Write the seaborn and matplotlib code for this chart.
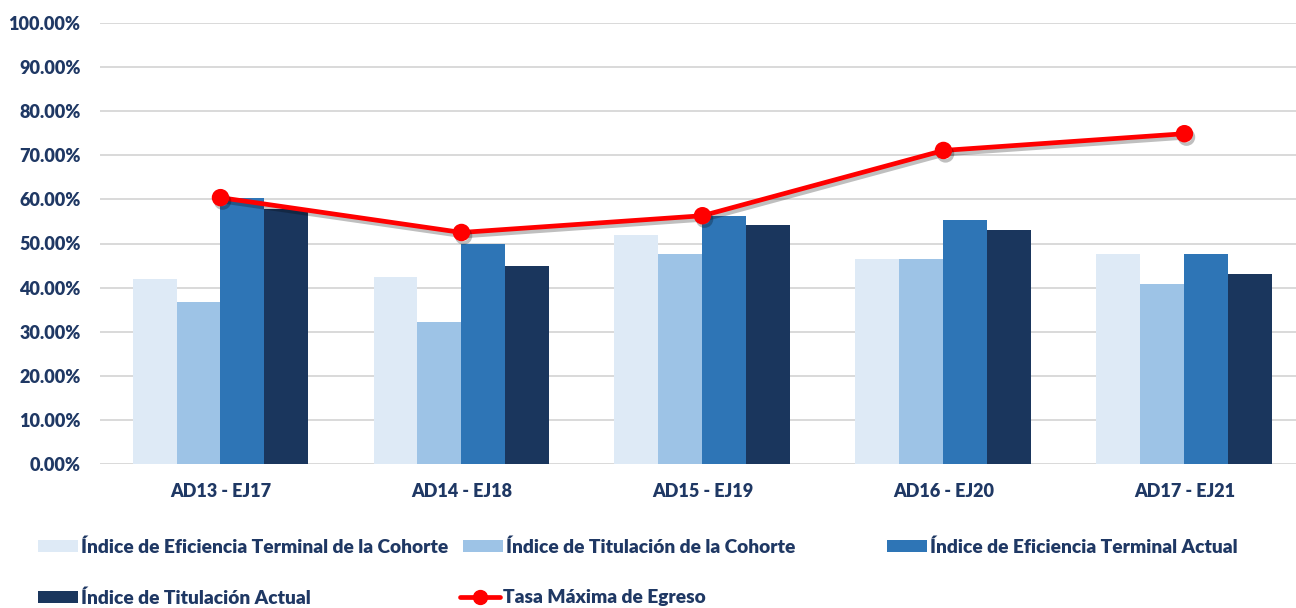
import matplotlib
matplotlib.use("Agg")
import matplotlib.pyplot as plt
import matplotlib.patheffects as pe
from matplotlib.patches import Patch
from matplotlib.lines import Line2D
from matplotlib.ticker import PercentFormatter
import seaborn as sns
import pandas as pd

# ---- data ----
categories = ["AD13 - EJ17", "AD14 - EJ18", "AD15 - EJ19", "AD16 - EJ20", "AD17 - EJ21"]
series_names = [
    "Índice de Eficiencia Terminal de la Cohorte",
    "Índice de Titulación de la Cohorte",
    "Índice de Eficiencia Terminal Actual",
    "Índice de Titulación Actual",
]
eficiencia_cohorte = [0.420, 0.423, 0.519, 0.465, 0.476]
titulacion_cohorte = [0.367, 0.323, 0.476, 0.465, 0.408]
eficiencia_actual = [0.603, 0.499, 0.563, 0.554, 0.476]
titulacion_actual = [0.578, 0.448, 0.541, 0.531, 0.431]
line_name = "Tasa Máxima de Egreso"
tasa_maxima = [0.604, 0.525, 0.563, 0.711, 0.749]

bar_colors = ["#DEEAF6", "#9DC3E6", "#2E75B6", "#1A365D"]
line_color = "#FF0000"
text_color = "#1F3864"

rows = []
for name, vals in zip(series_names, [eficiencia_cohorte, titulacion_cohorte,
                                     eficiencia_actual, titulacion_actual]):
    for c, v in zip(categories, vals):
        rows.append({"cat": c, "serie": name, "val": v})
df = pd.DataFrame(rows)

sns.set_theme(style="white")
plt.rcParams["font.family"] = ["Lato", "DejaVu Sans"]
plt.rcParams["font.weight"] = "heavy"

fig = plt.figure(figsize=(12.96, 6.08), dpi=100)
ax = fig.add_axes([100 / 1296, 1 - 464 / 608, 1196 / 1296, (464 - 23) / 608])

sns.barplot(data=df, x="cat", y="val", hue="serie", hue_order=series_names,
            order=categories, palette=bar_colors, saturation=1, width=0.73,
            gap=0, errorbar=None, legend=False, ax=ax, zorder=2, linewidth=0)

sns.pointplot(x=categories, y=tasa_maxima, order=categories, color=line_color,
              markers="o", linestyles="-", errorbar=None, ax=ax,
              markersize=10, linewidth=3.4)
for ln in ax.lines:
    ln.set_zorder(5)
    ln.set_path_effects([pe.SimpleLineShadow(offset=(1.5, -2.5), shadow_color="black",
                                             alpha=0.25), pe.Normal()])

ax.set_ylim(0, 1)
ax.set_xlim(-0.5, 4.463)
ax.set_yticks([i / 10 for i in range(11)])
ax.yaxis.set_major_formatter(PercentFormatter(1.0, decimals=2))
ax.grid(axis="y", color="#D9D9D9", linewidth=1.4, zorder=0)
ax.set_axisbelow(True)
for s in ax.spines.values():
    s.set_visible(False)
ax.set_xlabel("")
ax.set_ylabel("")
ax.tick_params(axis="both", length=0, labelsize=13, labelcolor=text_color)
ax.tick_params(axis="y", pad=14)
ax.tick_params(axis="x", pad=14)
for lab in ax.get_xticklabels() + ax.get_yticklabels():
    lab.set_fontweight("heavy")

# ---- legend (one entry per slot, Excel-like grid) ----
handles = [Patch(facecolor=c, edgecolor="none") for c in bar_colors]
handles.append(Line2D([], [], color=line_color, linewidth=3.4, marker="o", markersize=10))
labels = series_names + [line_name]
slots = [(38, 547), (463, 547), (887, 547), (38, 598), (460, 598)]
for h, l, (x, y) in zip(handles, labels, slots):
    fig.legend([h], [l], loc="center left", bbox_to_anchor=(x / 1296, 1 - y / 608),
               frameon=False, borderpad=0, borderaxespad=0, handlelength=2.1,
               handleheight=0.65, handletextpad=0.12,
               prop={"size": 13.8, "weight": "heavy"}, labelcolor=text_color)

fig.savefig("out.png", dpi=100)
